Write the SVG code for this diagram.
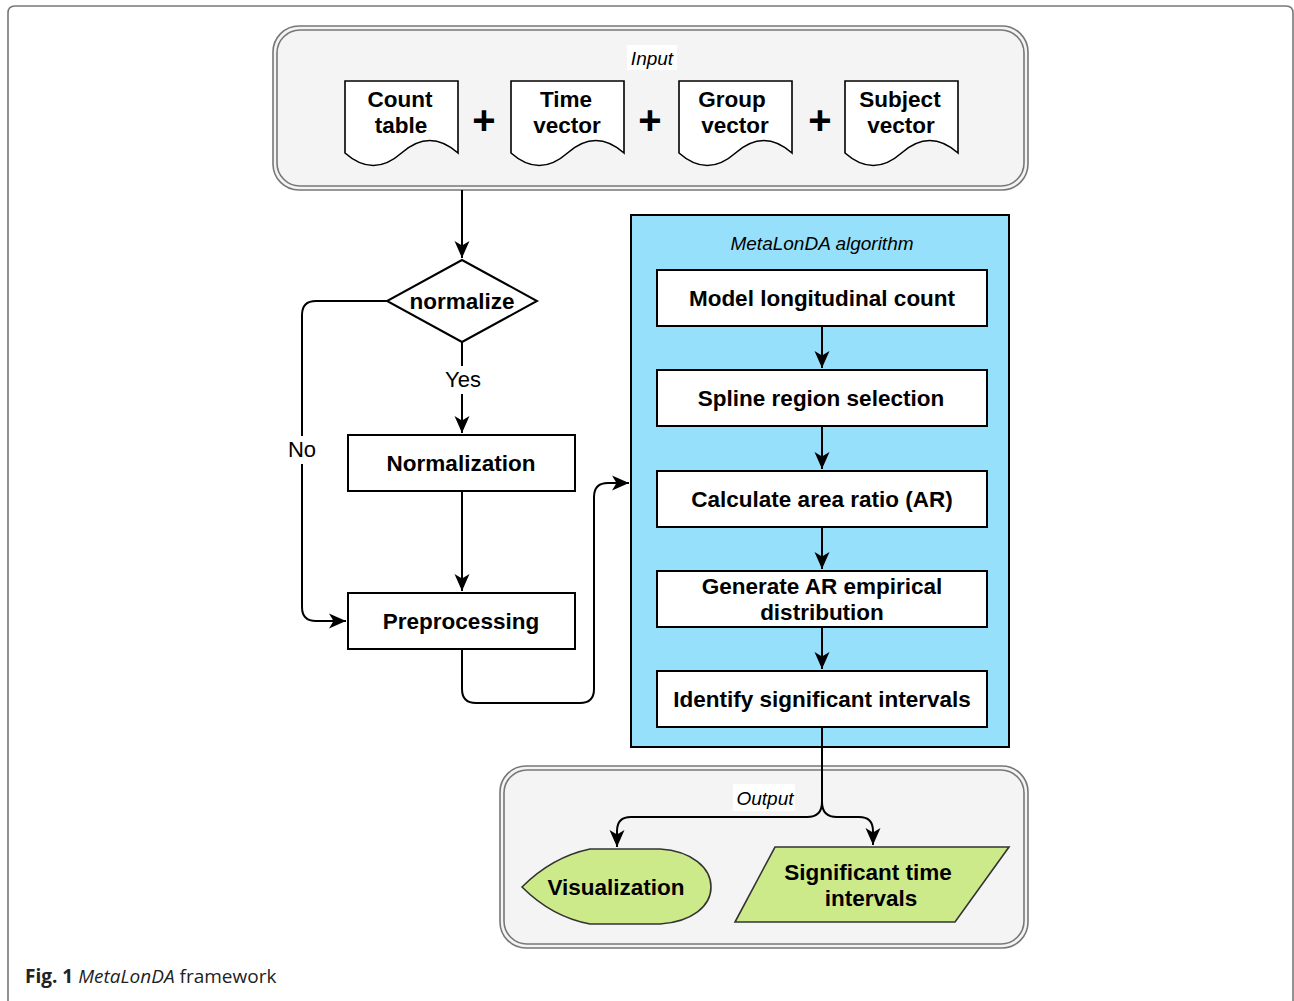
<svg xmlns="http://www.w3.org/2000/svg" width="1294" height="1001" viewBox="0 0 1294 1001">
<defs>
<marker id="arr" markerUnits="userSpaceOnUse" markerWidth="20" markerHeight="18" viewBox="-1 -9 19 18" refX="17" refY="0" orient="auto">
<path d="M0,-7.5 L17,0 L0,7.5 L4.5,0 Z" fill="#000"/>
</marker>
</defs>
<style>
.t{font-family:"Liberation Sans",Arial,sans-serif;font-weight:bold;font-size:22.5px;fill:#000;text-anchor:middle}
.lab{font-family:"Liberation Sans",Arial,sans-serif;font-size:22px;fill:#000;text-anchor:middle}
.it{font-family:"Liberation Sans",Arial,sans-serif;font-style:italic;font-size:19px;fill:#000;text-anchor:middle}
.box{fill:#fff;stroke:#000;stroke-width:2}
.doc{fill:#fff;stroke:#000;stroke-width:1.6}
.cont{fill:#f4f4f4;stroke:#777;stroke-width:1.6}
.cont2{fill:none;stroke:#777;stroke-width:1.6}
.green{fill:#cdea8a;stroke:#333;stroke-width:1.6}
.c{fill:none;stroke:#000;stroke-width:2}
.plus{font-family:"Liberation Sans",Arial,sans-serif;font-weight:bold;font-size:40px;fill:#000;text-anchor:middle}
</style>
<rect width="1294" height="1001" fill="#fff"/>
<path d="M8,1010 V13 Q8,6 15,6 H1286 Q1293,6 1293,13 V1010" fill="none" stroke="#777" stroke-width="1.6"/>

<g id="input">
<rect class="cont" x="273" y="26" width="755" height="164" rx="26"/>
<rect class="cont2" x="277" y="30" width="747" height="156" rx="23"/>
<rect x="627" y="45" width="50" height="25" fill="#fff"/>
<text class="it" x="652" y="65">Input</text>
</g>
<g id="count-table">
<path class="doc" d="M345,81 H458 V153 Q429.75,128 401.5,153 Q373.25,178 345,153 Z"/>
<text class="t" x="400" y="107">Count</text><text class="t" x="401" y="133">table</text>
</g>
<text class="plus" x="484" y="134">+</text>
<g id="time-vector">
<path class="doc" d="M511,81 H624 V153 Q595.75,128 567.5,153 Q539.25,178 511,153 Z"/>
<text class="t" x="566" y="107">Time</text><text class="t" x="567" y="133">vector</text>
</g>
<text class="plus" x="650" y="134">+</text>
<g id="group-vector">
<path class="doc" d="M679,81 H792 V153 Q763.75,128 735.5,153 Q707.25,178 679,153 Z"/>
<text class="t" x="732" y="107">Group</text><text class="t" x="735" y="133">vector</text>
</g>
<text class="plus" x="820" y="134">+</text>
<g id="subject-vector">
<path class="doc" d="M845,81 H958 V153 Q929.75,128 901.5,153 Q873.25,178 845,153 Z"/>
<text class="t" x="900" y="107">Subject</text><text class="t" x="901" y="133">vector</text>
</g>

<g id="normalize">
<path class="box" d="M462,260 L537,301 L462,342 L387,301 Z"/>
<text class="t" x="462" y="309">normalize</text>
</g>
<g id="normalization">
<rect class="box" x="348" y="435" width="227" height="56"/>
<text class="t" x="461" y="471">Normalization</text>
</g>
<g id="preprocessing">
<rect class="box" x="348" y="593" width="227" height="56"/>
<text class="t" x="461" y="629">Preprocessing</text>
</g>

<g id="algorithm">
<rect x="631" y="215" width="378" height="532" fill="#96e0fc" stroke="#000" stroke-width="2"/>
<text class="it" x="822" y="250">MetaLonDA algorithm</text>
</g>
<g id="model">
<rect class="box" x="657" y="270" width="330" height="56"/>
<text class="t" x="822" y="306">Model longitudinal count</text>
</g>
<g id="spline">
<rect class="box" x="657" y="370" width="330" height="56"/>
<text class="t" x="821" y="406">Spline region selection</text>
</g>
<g id="area">
<rect class="box" x="657" y="471" width="330" height="56"/>
<text class="t" x="822" y="507">Calculate area ratio (AR)</text>
</g>
<g id="generate">
<rect class="box" x="657" y="571" width="330" height="56"/>
<text class="t" x="822" y="594">Generate AR empirical</text>
<text class="t" x="822" y="620">distribution</text>
</g>
<g id="identify">
<rect class="box" x="657" y="671" width="330" height="56"/>
<text class="t" x="822" y="707">Identify significant intervals</text>
</g>

<g id="output">
<rect class="cont" x="500" y="766" width="528" height="182" rx="26"/>
<rect class="cont2" x="504" y="770" width="520" height="174" rx="23"/>
<rect x="733" y="784" width="62" height="27" fill="#fff"/>
<text class="it" x="765" y="805">Output</text>
</g>
<g id="visualization">
<path class="green" d="M522,887 Q552,857 590,849 H660 C692,851 711,868 711,887 C711,906 692,922 660,924 H590 Q552,917 522,887 Z"/>
<text class="t" x="616" y="895">Visualization</text>
</g>
<g id="significant">
<path class="green" d="M775,847 H1009 L955,922 H735 Z"/>
<text class="t" x="868" y="880">Significant time</text>
<text class="t" x="871" y="906">intervals</text>
</g>

<g id="connectors">
<path class="c" d="M462,190 V258" marker-end="url(#arr)"/>
<path class="c" d="M462,342 V433" marker-end="url(#arr)"/>
<path class="c" d="M387,301 H316 Q302,301 302,315 V607 Q302,621 316,621 H346" marker-end="url(#arr)"/>
<path class="c" d="M462,491 V591" marker-end="url(#arr)"/>
<path class="c" d="M462,649 V689 Q462,703 476,703 H580 Q594,703 594,689 V497 Q594,483 608,483 H629" marker-end="url(#arr)"/>
<path class="c" d="M822,326 V368" marker-end="url(#arr)"/>
<path class="c" d="M822,426 V469" marker-end="url(#arr)"/>
<path class="c" d="M822,527 V569" marker-end="url(#arr)"/>
<path class="c" d="M822,627 V669" marker-end="url(#arr)"/>
<path class="c" d="M822,727 V802 Q822,817 807,817 H631 Q617,817 617,831 V847" marker-end="url(#arr)"/>
<path class="c" d="M822,802 Q822,817 837,817 H859 Q873,817 873,831 V845" marker-end="url(#arr)"/>
<rect x="436" y="366" width="54" height="28" fill="#fff"/>
<text class="lab" x="463" y="387">Yes</text>
<rect x="284" y="436" width="36" height="28" fill="#fff"/>
<text class="lab" x="302" y="457">No</text>
</g>

<text x="25" y="983" font-family="'Open Sans',sans-serif" font-size="19" fill="#222"><tspan font-weight="bold">Fig. 1</tspan> <tspan font-style="italic">MetaLonDA</tspan> framework</text>
</svg>
